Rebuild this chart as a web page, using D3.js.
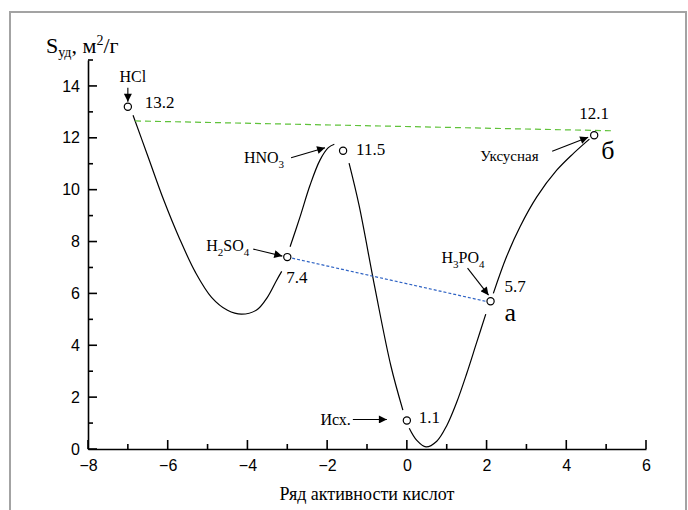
<!DOCTYPE html>
<html>
<head>
<meta charset="utf-8">
<script src="https://cdn.jsdelivr.net/npm/d3@7"></script>
<style>
  body { margin:0; background:#fff; }
  svg text { fill:#000; }
  .serif { font-family:"Liberation Serif","Times New Roman",serif; }
  .tick text { font-family:"Liberation Sans",Arial,sans-serif; font-size:16px; }
</style>
</head>
<body>
<svg id="chart" width="688" height="510"></svg>
<script>
// acid activity row (x) vs specific surface (y)
const acidX   = [-7, -3, -1.6, 0, 2.1, 4.7];
const surface = [13.2, 7.4, 11.5, 1.1, 5.7, 12.1];
const acidLabels = ['HCl', 'H|2|SO|4', 'HNO|3', 'Исх.', 'H|3|PO|4', 'Уксусная'];
const xTickValues = [-8, -6, -4, -2, 0, 2, 4, 6];
const yTickValues = [0, 2, 4, 6, 8, 10, 12, 14];

// hand drawn trend curve, broken at every symbol
const trendHClH2SO4 = [[-6.87, 12.87], [-6.5, 11.3], [-6.1, 9.6], [-5.7, 8.1], [-5.3, 6.8],
    [-4.9, 5.85], [-4.5, 5.35], [-4.15, 5.2], [-3.77, 5.36], [-3.5, 5.85], [-3.27, 6.5], [-3.14, 6.85]];
const trendH2SO4HNO3 = [[-2.93, 7.8], [-2.68, 8.95], [-2.43, 10.17], [-2.18, 11.14], [-1.97, 11.62], [-1.82, 11.75]];
const trendHNO3Init = [[-1.45, 11.02], [-1.2, 9.4], [-0.8, 6.2], [-0.4, 3.2], [-0.1, 1.5]];
const trendInitH3PO4 = [[0.06, 0.8], [0.25, 0.33], [0.48, 0.08], [0.75, 0.3], [1.0, 0.9],
    [1.25, 1.8], [1.5, 2.9], [1.75, 4.1], [1.98, 5.2]];
const trendH3PO4Acetic = [[2.17, 6.0], [2.5, 7.41], [2.84, 8.57], [3.26, 9.72], [3.76, 10.75],
    [4.18, 11.4], [4.58, 11.95]];

// guide lines a (blue) and б (green)
const lineA = [[-3, 7.4], [2.17, 5.63]];
const lineB = [[-6.82, 12.65], [5.17, 12.27]];
const sideLetters = ['а', 'б'];

const svg = d3.select('#chart');
const x = d3.scaleLinear().domain([-8, 6]).range([88, 646]);
const y = d3.scaleLinear().domain([0, 15]).range([449, 60]);

// outer frame
svg.append('rect').attr('x', 10).attr('y', 12).attr('width', 676).attr('height', 520)
    .attr('fill', 'none').attr('stroke', '#a3a3a3').attr('stroke-width', 2);

const defs = svg.append('defs');
defs.append('marker').attr('id', 'arr').attr('viewBox', '0 0 10 10')
    .attr('refX', 10).attr('refY', 5).attr('markerWidth', 13).attr('markerHeight', 8)
    .attr('markerUnits', 'userSpaceOnUse').attr('orient', 'auto')
    .append('path').attr('d', 'M0,0L10,5L0,10Z').attr('fill', '#000');

const pts = acidX.map((v, i) => [v, surface[i]]);

// axes
const xAxis = d3.axisBottom(x).tickValues(xTickValues).tickSize(0).tickPadding(12);
const gx = svg.append('g').attr('transform', 'translate(0,449)').call(xAxis);
const yAxis = d3.axisLeft(y).tickValues(yTickValues).tickSize(0).tickPadding(8);
const gy = svg.append('g').attr('transform', 'translate(88,0)').call(yAxis);
[gx, gy].forEach(g => {
    g.select('.domain').attr('stroke', '#000').attr('stroke-width', 1.6);
});
gx.selectAll('.tick text').attr('dy', '0.71em').attr('y', 11);

const ticks = svg.append('g').attr('stroke', '#000').attr('stroke-width', 1.6);
d3.range(-8, 7).forEach(v => {
    const len = v % 2 === 0 ? 9 : 5;
    ticks.append('line').attr('x1', x(v)).attr('x2', x(v)).attr('y1', 449).attr('y2', 449 - len);
});
d3.range(0, 16).forEach(v => {
    const len = v % 2 === 0 ? 9 : 5;
    ticks.append('line').attr('x1', 88).attr('x2', 88 + len).attr('y1', y(v)).attr('y2', y(v));
});

// axis titles
const yt = svg.append('text').attr('class', 'serif').attr('x', 46).attr('y', 53).attr('font-size', 22);
yt.append('tspan').text('S');
yt.append('tspan').attr('font-size', 14).attr('dy', 4).text('уд');
yt.append('tspan').attr('dy', -4).text(', м');
yt.append('tspan').attr('font-size', 14).attr('dy', -8).text('2');
yt.append('tspan').attr('dy', 8).text('/г');

svg.append('text').attr('class', 'serif').attr('x', 367).attr('y', 500)
    .attr('text-anchor', 'middle').attr('font-size', 18).text('Ряд активности кислот');

// trend curve
const line = d3.line().x(d => x(d[0])).y(d => y(d[1])).curve(d3.curveCatmullRom.alpha(0.5));
svg.append('g').selectAll('path')
    .data([trendHClH2SO4, trendH2SO4HNO3, trendHNO3Init, trendInitH3PO4, trendH3PO4Acetic])
    .enter().append('path').attr('d', line).attr('fill', 'none')
    .attr('stroke', '#000').attr('stroke-width', 1.2);

const straight = d3.line().x(d => x(d[0])).y(d => y(d[1]));
svg.append('path').datum(lineB).attr('d', straight).attr('fill', 'none')
    .attr('stroke', '#5fc23a').attr('stroke-width', 1.2).attr('stroke-dasharray', '6,4');
svg.append('path').datum(lineA).attr('d', straight).attr('fill', 'none')
    .attr('stroke', '#2f63c4').attr('stroke-width', 1.2).attr('stroke-dasharray', '3,2');

svg.append('g').selectAll('circle').data(pts).enter().append('circle')
    .attr('cx', d => x(d[0])).attr('cy', d => y(d[1])).attr('r', 3.6)
    .attr('fill', '#fff').attr('stroke', '#000').attr('stroke-width', 1.2);

// annotation placement, offsets from each point in px
const notes = [
    { lab:[5, -25, 'middle'], arrow:[0, -19, 0, -5], val:[17, 1, 'start'] },
    { lab:[-38, -6, 'end'], arrow:[-34, -8, -5, -1], val:[-1, 26, 'start'] },
    { lab:[-59, 12, 'end'], arrow:[-52, 7, -18, -3], val:[13, 4, 'start'] },
    { lab:[-56, 5, 'end'], arrow:[-54, -1, -20, -1], val:[12, 3, 'start'] },
    { lab:[-49, -38, 'start'], arrow:[-23, -33, -2, -6], val:[14, -9, 'start'] },
    { lab:[-114, 26, 'start'], arrow:[-42, 16, -6, 2], val:[0, -16, 'middle'] }
];

const ann = svg.append('g').attr('class', 'serif');
pts.forEach((p, i) => {
    const px = x(p[0]), py = y(p[1]), n = notes[i];
    const t = ann.append('text').attr('x', px + n.lab[0]).attr('y', py + n.lab[1])
        .attr('text-anchor', n.lab[2]).attr('font-size', i === 5 ? 15 : 16);
    acidLabels[i].split('|').forEach((s, k) => {
        const sub = k % 2 === 1;
        t.append('tspan').attr('font-size', sub ? 11 : null)
            .attr('dy', k === 0 ? 0 : (sub ? 5 : -5)).text(s);
    });
    ann.append('line').attr('x1', px + n.arrow[0]).attr('y1', py + n.arrow[1])
        .attr('x2', px + n.arrow[2]).attr('y2', py + n.arrow[3])
        .attr('stroke', '#000').attr('stroke-width', 1.1).attr('marker-end', 'url(#arr)');
    ann.append('text').attr('x', px + n.val[0]).attr('y', py + n.val[1])
        .attr('text-anchor', n.val[2]).attr('font-size', 17).text(d3.format('.1f')(p[1]));
});

// letters for the guide lines
const letterPts = [pts[4], pts[5]];
const letterOff = [[14, 20], [7, 24]];
letterPts.forEach((p, i) => {
    ann.append('text').attr('x', x(p[0]) + letterOff[i][0]).attr('y', y(p[1]) + letterOff[i][1])
        .attr('font-size', 26).text(sideLetters[i]);
});
</script>
</body>
</html>
